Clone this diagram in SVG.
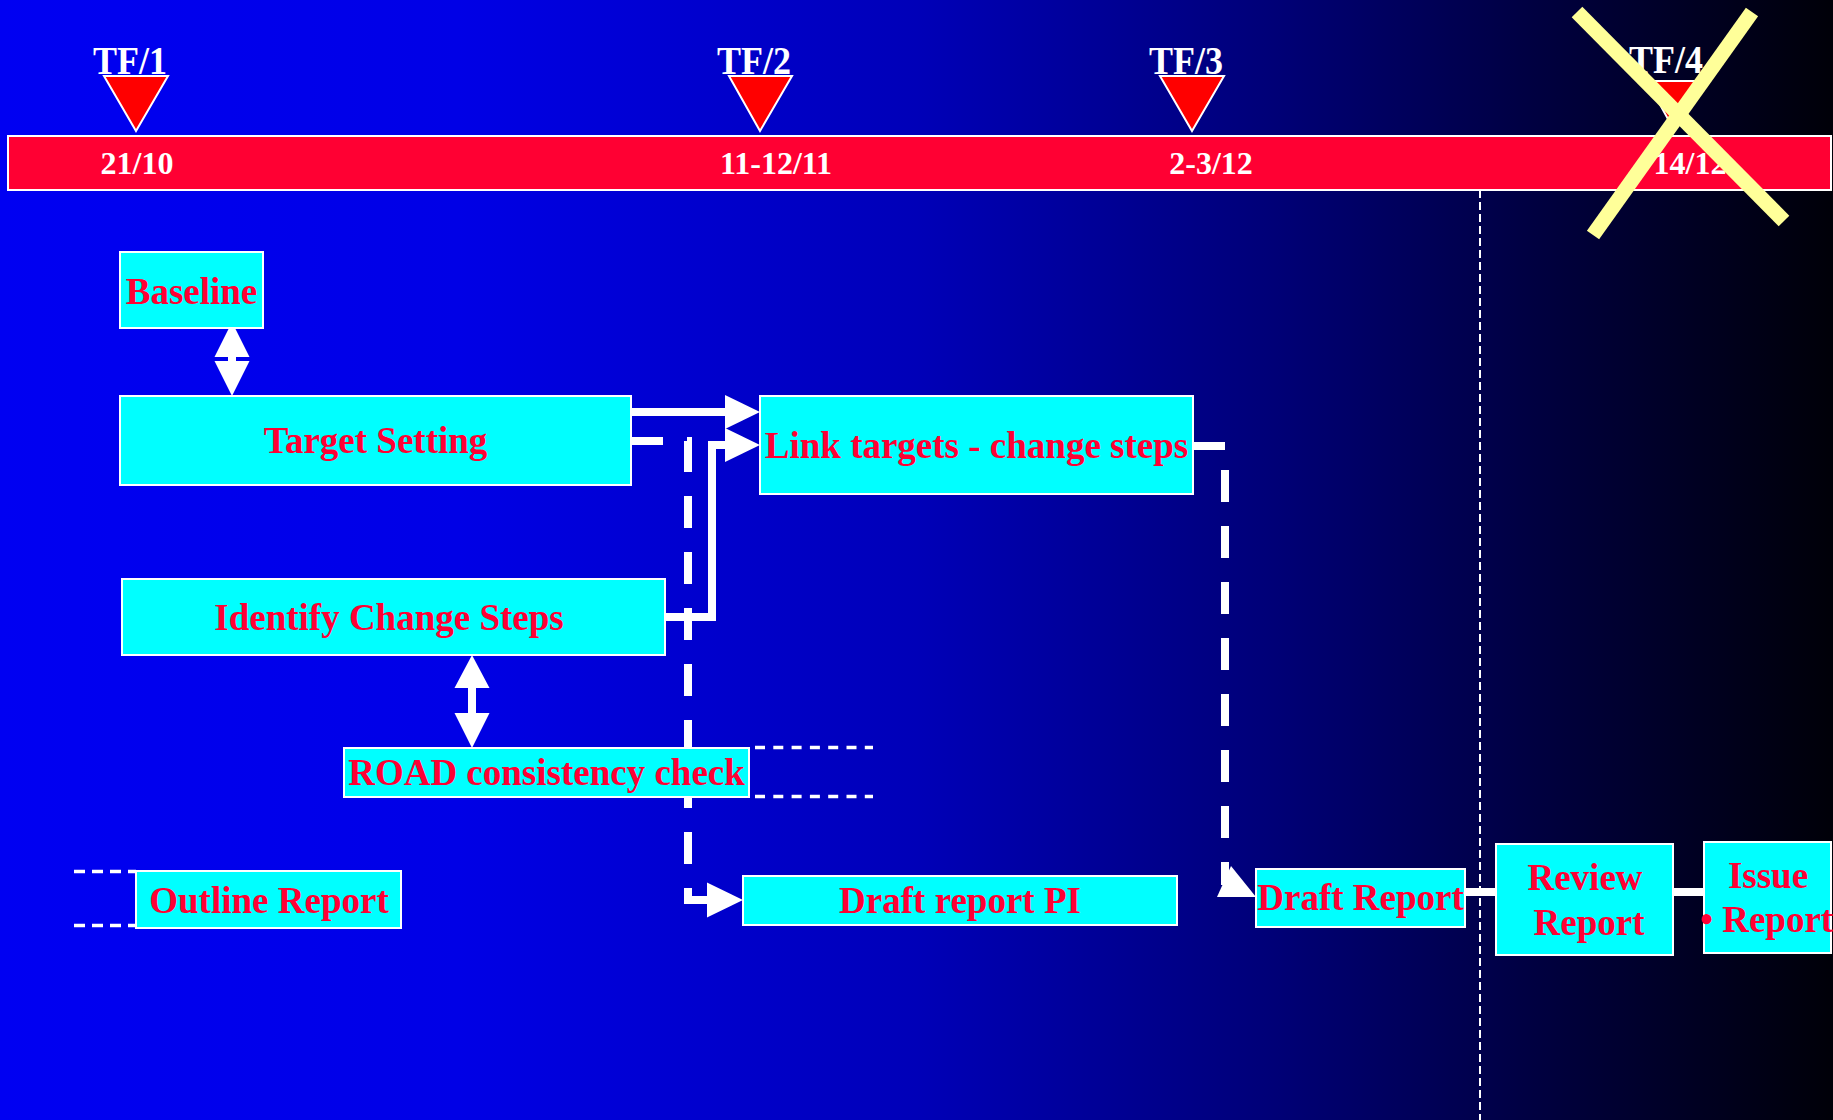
<svg xmlns="http://www.w3.org/2000/svg" width="1833" height="1120" viewBox="0 0 1833 1120">
<defs>
<linearGradient id="bg" x1="0" y1="0" x2="1" y2="0">
<stop offset="0" stop-color="#0000F2"/>
<stop offset="0.25" stop-color="#0000E6"/>
<stop offset="0.5" stop-color="#0000B8"/>
<stop offset="0.7" stop-color="#000075"/>
<stop offset="0.85" stop-color="#00003C"/>
<stop offset="1" stop-color="#000008"/>
</linearGradient>
<style>
.box{fill:#00FFFF;stroke:#FFFFFF;stroke-width:2}
.lbl{font-family:"Liberation Serif","Times New Roman",serif;font-weight:bold;font-size:37px;fill:#FF0033}
.tf{font-family:"Liberation Serif","Times New Roman",serif;font-weight:bold;font-size:36px;fill:#FFFFFF;text-anchor:middle}
.date{font-family:"Liberation Serif","Times New Roman",serif;font-weight:bold;font-size:32px;fill:#FFFFFF;text-anchor:middle}
.tri{fill:#FF0000;stroke:#FFFFFF;stroke-width:2}
.solid{fill:none;stroke:#FFFFFF;stroke-width:8}
.dash{fill:none;stroke:#FFFFFF;stroke-width:8;stroke-dasharray:32 24}
.thin{fill:none;stroke:#FFFFFF;stroke-width:3.5}
.head{fill:#FFFFFF}
.cross{stroke:#FFFF99;stroke-width:15;fill:none}
</style>
</defs>
<rect x="0" y="0" width="1833" height="1120" fill="url(#bg)"/>

<g id="timeline">
<rect x="8" y="136" width="1823" height="54" fill="#FF0033" stroke="#FFFFFF" stroke-width="2"/>
<polygon class="tri" points="104,76 168,76 136,131"/>
<polygon class="tri" points="729,76 792,76 760,131"/>
<polygon class="tri" points="1160,76 1224,76 1192,131"/>
<polygon class="tri" points="1647,81 1701,81 1674,130"/>
<text class="tf" transform="translate(130,74) scale(1,1.1)">TF/1</text>
<text class="tf" transform="translate(754,74) scale(1,1.1)">TF/2</text>
<text class="tf" transform="translate(1186,74) scale(1,1.1)">TF/3</text>
<text class="tf" transform="translate(1666,73) scale(1,1.1)">TF/4</text>
<text class="date" x="137" y="174">21/10</text>
<text class="date" x="776" y="174">11-12/11</text>
<text class="date" x="1211" y="174">2-3/12</text>
<text class="date" x="1690" y="174">14/12</text>
</g>

<line x1="1480" y1="190" x2="1480" y2="1120" stroke="#FFFFFF" stroke-width="2" stroke-dasharray="8 4"/>

<g id="connectors">
<!-- Baseline <-> Target Setting -->
<line class="solid" x1="232" y1="345" x2="232" y2="375"/>
<polygon class="head" points="232,322 249.5,357 214.5,357"/>
<polygon class="head" points="214.5,361 249.5,361 232,396"/>
<!-- Target Setting -> Link targets -->
<line class="solid" x1="631" y1="412" x2="726" y2="412"/>
<polygon class="head" points="725,395 760,412 725,429"/>
<!-- Identify -> Link targets -->
<path class="solid" d="M665,617 H712 V445 H726"/>
<polygon class="head" points="725,428 760,445 725,462"/>
<!-- Target Setting -> Draft report PI (dashed) -->
<path class="dash" d="M631,441 H688 V900 H708"/>
<polygon class="head" points="707,882.5 743,900 707,917.5"/>
<!-- Identify <-> ROAD -->
<line class="solid" x1="472" y1="680" x2="472" y2="720"/>
<polygon class="head" points="472,655 489.5,688 454.5,688"/>
<polygon class="head" points="454.5,713 489.5,713 472,748"/>
<!-- Link targets -> Draft Report (dashed) -->
<path class="dash" d="M1193,446 H1225 V885"/>
<polygon class="head" points="1217,897 1231,866 1256,897"/>
<!-- Draft Report -> Review -> Issue -->
<line class="solid" x1="1465" y1="892" x2="1496" y2="892"/>
<line class="solid" x1="1673" y1="892" x2="1704" y2="892"/>
<!-- dangling dashed lines -->
<line class="thin" x1="755" y1="747.5" x2="873" y2="747.5" stroke-dasharray="10 8.3"/>
<line class="thin" x1="755" y1="796.5" x2="873" y2="796.5" stroke-dasharray="10 8.3"/>
<line class="thin" x1="74" y1="871.5" x2="136" y2="871.5" stroke-dasharray="11 7"/>
<line class="thin" x1="74" y1="925.5" x2="136" y2="925.5" stroke-dasharray="11 7"/>
</g>

<g id="baseline">
<rect class="box" x="120" y="252" width="143" height="76"/>
<text class="lbl" x="191.5" y="304" text-anchor="middle">Baseline</text>
</g>
<g id="target-setting">
<rect class="box" x="120" y="396" width="511" height="89"/>
<text class="lbl" x="375.5" y="453" text-anchor="middle">Target Setting</text>
</g>
<g id="link-targets">
<rect class="box" x="760" y="396" width="433" height="98"/>
<text class="lbl" x="976.5" y="458" text-anchor="middle">Link targets - change steps</text>
</g>
<g id="identify-change-steps">
<rect class="box" x="122" y="579" width="543" height="76"/>
<text class="lbl" x="389" y="630" text-anchor="middle">Identify Change Steps</text>
</g>
<g id="road-check">
<rect class="box" x="344" y="748" width="405" height="49"/>
<text class="lbl" x="546.5" y="785" text-anchor="middle">ROAD consistency check</text>
</g>
<g id="outline-report">
<rect class="box" x="136" y="871" width="265" height="57"/>
<text class="lbl" x="269" y="913" text-anchor="middle">Outline Report</text>
</g>
<g id="draft-report-pi">
<rect class="box" x="743" y="876" width="434" height="49"/>
<text class="lbl" x="960" y="913" text-anchor="middle">Draft report PI</text>
</g>
<g id="draft-report">
<rect class="box" x="1256" y="869" width="209" height="58"/>
<text class="lbl" x="1360.5" y="910" text-anchor="middle">Draft Report</text>
</g>
<g id="review-report">
<rect class="box" x="1496" y="844" width="177" height="111"/>
<text class="lbl" x="1585" y="890" text-anchor="middle">Review</text>
<text class="lbl" x="1589" y="935" text-anchor="middle">Report</text>
</g>
<g id="issue-report">
<rect class="box" x="1704" y="842" width="127" height="111"/>
<text class="lbl" x="1768" y="888" text-anchor="middle">Issue</text>
<text class="lbl" x="1700" y="932">• Report</text>
</g>

<g id="cancel-mark">
<line class="cross" x1="1577" y1="12" x2="1784" y2="221"/>
<line class="cross" x1="1752" y1="12" x2="1593" y2="235"/>
</g>
</svg>
